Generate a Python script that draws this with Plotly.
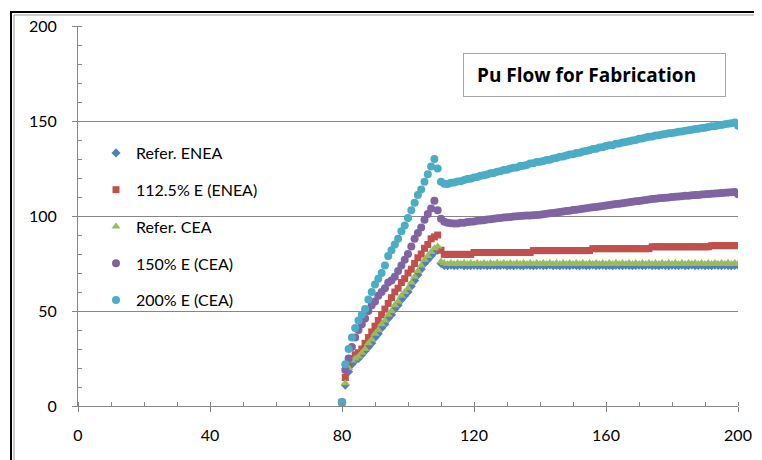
import plotly.graph_objects as go

# ---------------- data ----------------
x_vals = list(range(80, 201))

names = ["Refer. ENEA", "112.5% E (ENEA)", "Refer. CEA", "150% E (CEA)", "200% E (CEA)"]

refer_enea = [2, 11, 18, 22, 24, 25, 27, 29, 31, 33, 36, 38, 41, 43, 46, 48, 51, 53, 56, 58,
              60, 63, 66, 69, 72, 75, 77, 79, 81, 82,
              75,
              74.0, 73.8, 74.1, 73.9, 74.0, 74.2, 73.8, 74.0, 73.9, 74.1,
              74.0, 73.9, 74.1, 73.8, 74.0, 74.1, 73.9, 74.0, 74.2, 73.9,
              74.0, 73.8, 74.1, 74.0, 73.9, 74.1, 74.0, 73.8, 74.0, 74.1,
              73.9, 74.0, 74.2, 73.9, 74.0, 73.8, 74.1, 74.0, 73.9, 74.1,
              74.0, 73.9, 74.1, 73.8, 74.0, 74.2, 73.9, 74.0, 74.1, 73.9,
              74.0, 73.8, 74.1, 74.0, 73.9, 74.1, 74.0, 73.8, 74.0, 74.1,
              73.9, 74.0, 74.2, 73.9, 74.0, 73.8, 74.1, 74.0, 73.9, 74.1,
              74.0, 73.9, 74.1, 73.8, 74.0, 74.2, 73.9, 74.0, 74.1, 73.9,
              74.0, 73.8, 74.1, 74.0, 73.9, 74.1, 74.0, 73.8, 74.0, 74.1]

e1125_enea = [2, 15, 21, 25, 27, 28, 30, 33, 36, 39, 42, 45, 48, 51, 54, 57, 60, 62, 65, 67,
              70, 72, 75, 78, 80, 83, 85, 88, 89, 90,
              82,
              79.8, 79.8, 79.8, 79.8, 79.8, 79.8, 79.8, 79.8, 79.8,
              80.8, 80.8, 80.8, 80.8, 80.8, 80.8, 80.8, 80.8, 80.8,
              80.8, 80.8, 80.8, 80.8, 80.8, 80.8, 80.8, 80.8, 80.8,
              81.8, 81.8, 81.8, 81.8, 81.8, 81.8, 81.8, 81.8, 81.8,
              81.8, 81.8, 81.8, 81.8, 81.8, 81.8, 81.8, 81.8, 81.8,
              82.8, 82.8, 82.8, 82.8, 82.8, 82.8, 82.8, 82.8, 82.8,
              82.8, 82.8, 82.8, 82.8, 82.8, 82.8, 82.8, 82.8, 82.8,
              83.8, 83.8, 83.8, 83.8, 83.8, 83.8, 83.8, 83.8, 83.8,
              83.8, 83.8, 83.8, 83.8, 83.8, 83.8, 83.8, 83.8, 83.8,
              84.4, 84.4, 84.4, 84.4, 84.4, 84.4, 84.4, 84.4, 84.4]

refer_cea = [2, 12, 20, 24, 25, 26, 28, 30, 33, 35, 38, 40, 43, 45, 48, 50, 53, 55, 58, 60,
             62, 65, 68, 71, 74, 77, 79, 81, 83, 84,
             76,
             75.3, 74.7, 75.3, 74.7, 75.3, 74.7, 75.3, 74.7, 75.3, 74.7,
             75.3, 74.7, 75.3, 74.7, 75.3, 74.7, 75.3, 74.7, 75.3, 74.7,
             75.3, 74.7, 75.3, 74.7, 75.3, 74.7, 75.3, 74.7, 75.3, 74.7,
             75.3, 74.7, 75.3, 74.7, 75.3, 74.7, 75.3, 74.7, 75.3, 74.7,
             75.3, 74.7, 75.3, 74.7, 75.3, 74.7, 75.3, 74.7, 75.3, 74.7,
             75.3, 74.7, 75.3, 74.7, 75.3, 74.7, 75.3, 74.7, 75.3, 74.7,
             75.3, 74.7, 75.3, 74.7, 75.3, 74.7, 75.3, 74.7, 75.3, 74.7,
             75.3, 74.7, 75.3, 74.7, 75.3, 74.7, 75.3, 74.7, 75.3, 74.7,
             75.3, 74.7, 75.3, 74.7, 75.3, 74.7, 75.3, 74.7, 75.3, 74.7]

e150_cea = [2, 19, 25, 31, 36, 40, 43, 46, 50, 53, 55, 58, 60, 62, 65, 66, 68, 71, 74, 77,
            80, 84, 88, 91, 94, 98, 101, 104, 108, 103,
            98.5, 97, 96.5, 96.2, 96, 96.1, 96.4, 96.5, 96.8, 97,
            97.1, 97.5, 97.6, 97.8, 98.2, 98.3, 98.5, 98.8, 98.9, 99.2,
            99.4, 99.5, 99.8, 99.9, 100, 100.1, 100.2, 100.3, 100.4, 100.5,
            100.6, 100.9, 101.2, 101.4, 101.6, 101.9, 102.1, 102.4, 102.6, 102.8,
            103.1, 103.3, 103.6, 103.8, 104.1, 104.3, 104.6, 104.8, 105, 105.3,
            105.5, 105.8, 106, 106.3, 106.5, 106.7, 107, 107.2, 107.5, 107.7,
            107.9, 108.2, 108.4, 108.7, 108.9, 109.1, 109.3, 109.5, 109.6, 109.8,
            110, 110.1, 110.3, 110.4, 110.6, 110.7, 110.9, 111, 111.1, 111.3,
            111.4, 111.6, 111.7, 111.8, 112, 112.1, 112.2, 112.4, 112.5, 112.6,
            111.5]

e200_cea = [2, 22, 30, 36, 41, 45, 48, 51, 56, 60, 64, 67, 70, 74, 79, 82, 85, 88, 92, 95,
            99, 103, 107, 111, 114, 118, 122, 126, 130, 125,
            118, 117, 116.8, 117.5, 117.6, 118.2, 118.3, 119, 119.5, 119.6,
            120.3, 120.5, 121.2, 121.4, 121.8, 122.5, 122.6, 123.3, 123.5, 124.2,
            124.3, 125, 125.4, 125.5, 126.3, 126.5, 126.9, 127.6, 127.7, 128.4,
            128.5, 129, 129.5, 129.6, 130.3, 130.5, 131.2, 131.3, 131.9, 132.4,
            132.5, 133.1, 133.3, 134, 134.2, 134.6, 135.3, 135.4, 136, 136.2,
            136.8, 137.2, 137.3, 138, 138.1, 138.7, 139, 139.3, 139.8, 140,
            140.6, 140.8, 141.3, 141.7, 141.8, 142.4, 142.5, 142.9, 143.1, 143.5,
            143.7, 144, 144.4, 144.5, 144.9, 145.1, 145.4, 145.8, 145.9, 146.3,
            146.5, 146.8, 147.2, 147.3, 147.8, 147.9, 148.3, 148.6, 148.8, 149.2,
            147.5]

series = [refer_enea, e1125_enea, refer_cea, e150_cea, e200_cea]
x_ticks = [0, 40, 80, 120, 160, 200]
y_ticks = [0, 50, 100, 150, 200]
title_text = "Pu Flow for Fabrication"

# ---------------- style ----------------
colors = ["#4F81BD", "#C0504D", "#9BBB59", "#8064A2", "#4BACC6"]
symbols = ["diamond", "square", "triangle-up", "circle", "circle"]
sizes = [7, 7, 8, 8, 8]

OFF = 8  # page body margin
W, H = 762 - OFF, 460 - OFF
# plot area in screen pixels: x 78..738, y 26..406
SX0, SX1, SY0, SY1 = 78, 738, 26, 406
L, T = SX0 - OFF, SY0 - OFF
R = W - (SX1 - OFF)
B = H - (SY1 - OFF)
PW, PH = SX1 - SX0, SY1 - SY0


def px(v):
    return (v - SX0) / PW


def py(v):
    return (SY1 - v) / PH


fig = go.Figure()
for i, (nm, ys) in enumerate(zip(names, series)):
    fig.add_trace(go.Scatter(
        x=x_vals, y=ys, mode="markers", name=nm,
        legendgroup=str(i),
        marker=dict(color=colors[i], symbol=symbols[i], size=sizes[i],
                    line=dict(width=0)),
    ))

font_family = "Lato, 'Open Sans', sans-serif"

fig.update_layout(
    width=W, height=H,
    margin=dict(l=L, r=R, t=T, b=B, autoexpand=False),
    paper_bgcolor="white", plot_bgcolor="white",
    font=dict(family=font_family, size=16, color="#000000"),
    showlegend=True,
    legend=dict(x=px(96), y=py(136), xanchor="left", yanchor="top",
                bgcolor="rgba(0,0,0,0)", font=dict(size=16),
                tracegroupgap=13, itemsizing="trace"),
    xaxis=dict(range=[0, 200], tickvals=x_ticks, showgrid=False, zeroline=False,
               showline=True, linecolor="#868686", linewidth=1,
               ticks="outside", ticklen=5, tickcolor="#868686",
               minor=dict(dtick=10, ticks="inside", ticklen=4, tickcolor="#868686", showgrid=False),
               ticklabelstandoff=10, tickfont=dict(size=16)),
    yaxis=dict(range=[0, 200], tickvals=y_ticks, showgrid=True, gridcolor="#868686", gridwidth=1,
               zeroline=False, showline=True, linecolor="#868686", linewidth=1,
               ticks="outside", ticklen=5, tickcolor="#868686",
               minor=dict(dtick=10, ticks="inside", ticklen=4, tickcolor="#868686", showgrid=False),
               ticklabelstandoff=12, tickfont=dict(size=16)),
)

# title box
fig.add_annotation(
    xref="paper", yref="paper", x=px(463), y=py(53), xanchor="left", yanchor="top",
    text="<b>" + title_text + "</b>", showarrow=False, align="left",
    width=235, height=16, borderpad=13, bordercolor="#A6A6A6", borderwidth=1,
    bgcolor="white", font=dict(size=19, color="#000000", family="'Open Sans', sans-serif"),
)

# chart outer border (double line)
fig.add_shape(type="line", xref="paper", yref="paper", x0=px(11), x1=px(11), y0=py(12), y1=py(470),
              line=dict(color="#000000", width=2))
fig.add_shape(type="line", xref="paper", yref="paper", x0=px(14), x1=px(14), y0=py(15), y1=py(470),
              line=dict(color="#9A9A9A", width=1))
fig.add_shape(type="line", xref="paper", yref="paper", x0=px(10), x1=px(770), y0=py(12), y1=py(12),
              line=dict(color="#000000", width=2))
fig.add_shape(type="line", xref="paper", yref="paper", x0=px(14), x1=px(770), y0=py(15), y1=py(15),
              line=dict(color="#9A9A9A", width=1))

fig.write_html("out.html")
